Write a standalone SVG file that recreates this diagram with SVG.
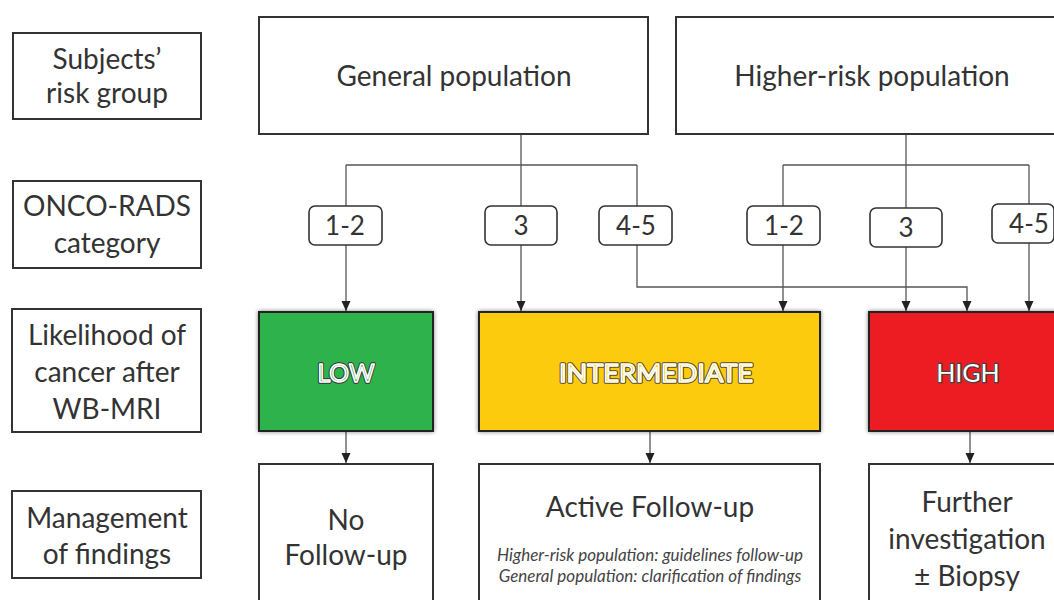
<svg xmlns="http://www.w3.org/2000/svg" width="1054" height="600" viewBox="0 0 1054 600">
<defs>
<style>
.t{font-family:Lato,"Open Sans","Liberation Sans",sans-serif;fill:#333;text-anchor:middle}
.lbl{font-size:28px}
.big{font-size:28px}
.cat{font-size:26px}
.box{fill:#fff;stroke:#333;stroke-width:2}
.cb{fill:#fff;stroke:#333;stroke-width:1.6}
.ln{fill:none;stroke:#555;stroke-width:1.3}
.it{font-size:17px;font-style:italic;fill:#444}
.lvl{font-family:Lato,"Open Sans","Liberation Sans",sans-serif;font-size:25px;text-anchor:middle}
</style>
<marker id="ah" markerWidth="11" markerHeight="10" refX="10" refY="5" orient="auto" markerUnits="userSpaceOnUse">
<path d="M0,0.5 L10,5 L0,9.5 Z" fill="#222"/>
</marker>
<filter id="glow" x="-5%" y="-5%" width="110%" height="110%">
<feGaussianBlur in="SourceAlpha" stdDeviation="2"/>
<feComponentTransfer><feFuncA type="linear" slope="0.5"/></feComponentTransfer>
<feMerge><feMergeNode/><feMergeNode in="SourceGraphic"/></feMerge>
</filter>
</defs>
<rect width="1054" height="600" fill="#fff"/>

<g id="connectors">
<path class="ln" d="M521,134 V311" marker-end="url(#ah)"/>
<path class="ln" d="M346,165 H637"/>
<path class="ln" d="M346,165 V311" marker-end="url(#ah)"/>
<path class="ln" d="M637,165 V287 H967 V311" marker-end="url(#ah)"/>
<path class="ln" d="M906,134 V311" marker-end="url(#ah)"/>
<path class="ln" d="M783,165 H1029"/>
<path class="ln" d="M783,165 V311" marker-end="url(#ah)"/>
<path class="ln" d="M1029,165 V311" marker-end="url(#ah)"/>
<path class="ln" d="M346,431 V463" marker-end="url(#ah)"/>
<path class="ln" d="M650,431 V463" marker-end="url(#ah)"/>
<path class="ln" d="M970,431 V463" marker-end="url(#ah)"/>
</g>

<g id="row-label-risk">
<rect class="box" x="13" y="33" width="188" height="86"/>
<text class="t lbl" x="107" y="69">Subjects’</text>
<text class="t lbl" x="107" y="103">risk group</text>
</g>
<g id="row-label-onco">
<rect class="box" x="13" y="181" width="188" height="87"/>
<text class="t lbl" x="107" y="216">ONCO-RADS</text>
<text class="t lbl" x="107" y="253">category</text>
</g>
<g id="row-label-likelihood">
<rect class="box" x="12" y="309" width="189" height="123"/>
<text class="t lbl" x="107" y="345">Likelihood of</text>
<text class="t lbl" x="107" y="382">cancer after</text>
<text class="t lbl" x="107" y="419">WB-MRI</text>
</g>
<g id="row-label-management">
<rect class="box" x="12" y="491" width="189" height="87"/>
<text class="t lbl" x="107" y="528">Management</text>
<text class="t lbl" x="107" y="564">of findings</text>
</g>

<g id="general-population">
<rect class="box" x="259" y="17" width="389" height="117"/>
<text class="t big" x="454" y="86">General population</text>
</g>
<g id="higher-risk-population">
<rect class="box" x="676" y="17" width="390" height="117"/>
<text class="t big" x="872" y="86">Higher-risk population</text>
</g>

<g id="gen-1-2">
<rect class="cb" x="309" y="206" width="73" height="39" rx="6"/>
<text class="t cat" x="345" y="235">1-2</text>
</g>
<g id="gen-3">
<rect class="cb" x="485" y="206" width="72" height="39" rx="6"/>
<text class="t cat" x="521" y="235">3</text>
</g>
<g id="gen-4-5">
<rect class="cb" x="599" y="206" width="73" height="39" rx="6"/>
<text class="t cat" x="636" y="235">4-5</text>
</g>
<g id="hr-1-2">
<rect class="cb" x="747" y="206" width="73" height="39" rx="6"/>
<text class="t cat" x="784" y="235">1-2</text>
</g>
<g id="hr-3">
<rect class="cb" x="870" y="208" width="72" height="39" rx="6"/>
<text class="t cat" x="906" y="237">3</text>
</g>
<g id="hr-4-5">
<rect class="cb" x="992" y="204" width="62" height="39" rx="6"/>
<text class="t cat" x="1029" y="233">4-5</text>
</g>

<g id="low">
<rect x="259" y="312" width="174" height="119" fill="#2eb24c" stroke="#222" stroke-width="2" filter="url(#glow)"/>
<text class="lvl" x="346" y="382" fill="none" stroke="#333" stroke-width="3.5" stroke-linejoin="round" textLength="57" lengthAdjust="spacingAndGlyphs">LOW</text>
<text class="lvl" x="346" y="382" fill="#2eb24c" stroke="#fff" stroke-width="1.6" stroke-linejoin="round" textLength="57" lengthAdjust="spacingAndGlyphs">LOW</text>
</g>
<g id="intermediate">
<rect x="479" y="312" width="341" height="119" fill="#fdcb0b" stroke="#222" stroke-width="2" filter="url(#glow)"/>
<text class="lvl" x="656" y="382" fill="none" stroke="#5a4a20" stroke-width="3.5" stroke-linejoin="round" textLength="194" lengthAdjust="spacingAndGlyphs">INTERMEDIATE</text>
<text class="lvl" x="656" y="382" fill="#fdcb0b" stroke="#fff" stroke-width="1.6" stroke-linejoin="round" textLength="194" lengthAdjust="spacingAndGlyphs">INTERMEDIATE</text>
</g>
<g id="high">
<rect x="869" y="312" width="197" height="119" fill="#ec1c24" stroke="#222" stroke-width="2" filter="url(#glow)"/>
<text class="lvl" x="968" y="382" fill="#fff" stroke="#444" stroke-width="2.5" stroke-linejoin="round" paint-order="stroke">HIGH</text>
</g>

<g id="no-follow-up">
<rect class="box" x="259" y="464" width="174" height="150"/>
<text class="t lbl" x="346" y="530">No</text>
<text class="t lbl" x="346" y="565">Follow-up</text>
</g>
<g id="active-follow-up">
<rect class="box" x="479" y="464" width="341" height="150"/>
<text class="t big" x="650" y="517">Active Follow-up</text>
<text class="t it" x="650" y="561">Higher-risk population: guidelines follow-up</text>
<text class="t it" x="650" y="582">General population: clarification of findings</text>
</g>
<g id="further-investigation">
<rect class="box" x="869" y="464" width="197" height="150"/>
<text class="t lbl" x="967" y="512">Further</text>
<text class="t lbl" x="967" y="549">investigation</text>
<text class="t lbl" x="967" y="586">± Biopsy</text>
</g>
</svg>
